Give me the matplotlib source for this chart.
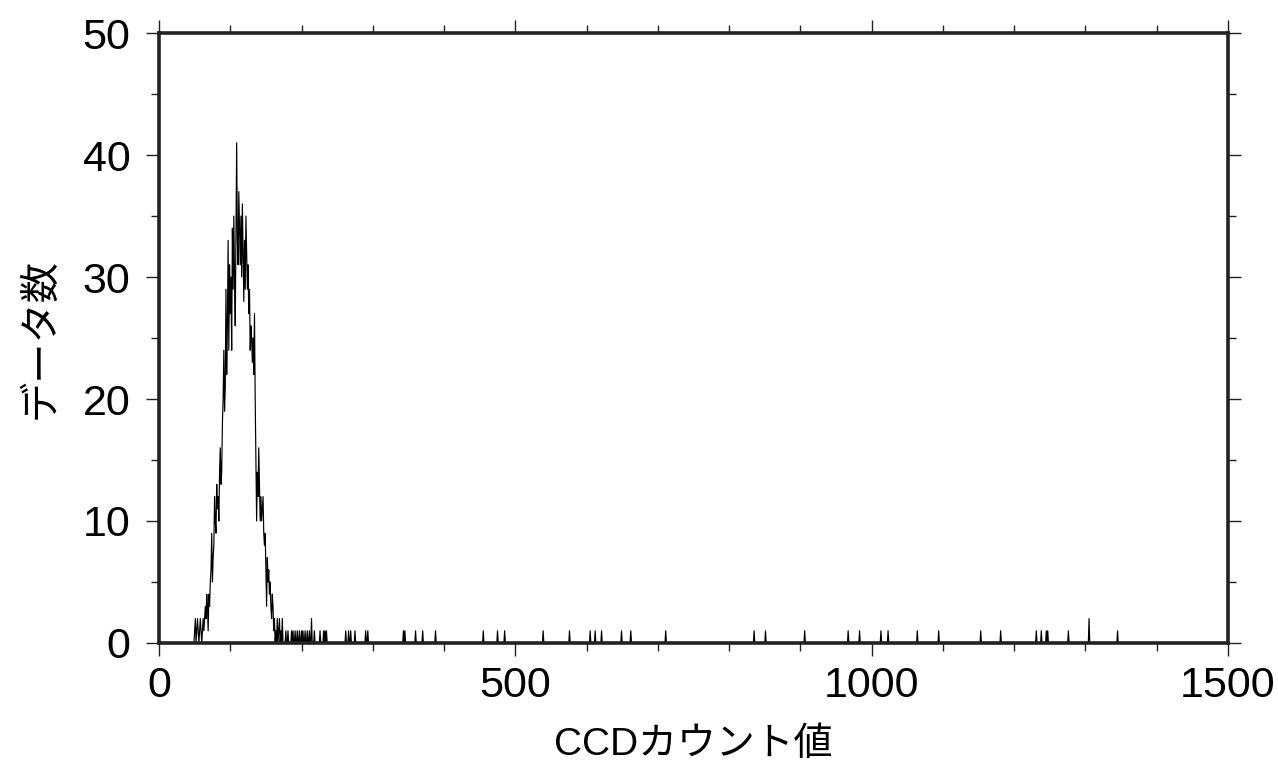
import numpy as np
import matplotlib
matplotlib.use("Agg")
import matplotlib.pyplot as plt
from matplotlib.ticker import MultipleLocator

plt.rcParams['font.family'] = ['Liberation Sans', 'Noto Sans CJK JP']

# counts per CCD value, main peak (values 48 .. 175)
peak_start = 48
peak_counts = [
    0, 0, 1, 2, 0, 1, 2, 1, 0, 1, 2, 1, 0, 1,
    2, 1, 2, 3, 2, 4, 3, 1, 4, 3, 5, 6, 9, 5, 7, 8,
    12, 10, 9, 13, 11, 12, 10, 14, 16, 13, 14, 18, 20, 24, 19, 21,
    29, 22, 26, 33, 24, 31, 27, 30, 24, 34, 29, 35, 30, 26, 33, 41,
    33, 31, 37, 34, 31, 35, 30, 36, 32, 28, 33, 29, 35, 32, 29, 31,
    27, 29, 24, 26, 25, 23, 25, 22, 27, 20, 15, 10, 14, 12, 16, 13,
    10, 12, 10, 11, 12, 9, 8, 9, 6, 3, 7, 5, 6, 4, 5, 3,
    2, 4, 3, 1, 2, 0, 1, 0, 2, 0, 1, 2, 0, 1, 0, 2,
    0, 0,
]

# isolated values in the tail
tail_values = [178, 181, 186, 188, 191, 194, 197, 200, 202, 205, 208, 211,
               214, 218, 226, 231, 233, 235, 262, 266, 269, 275, 290, 293,
               343, 345, 360, 370, 388, 455, 475, 485, 539, 576, 605, 612,
               621, 649, 662, 711, 835, 851, 906, 967, 983, 1013, 1023,
               1064, 1094, 1153, 1181, 1231, 1238, 1245, 1247, 1276, 1305,
               1345]
tail_counts = [1, 1, 1, 1, 1, 1, 1, 1, 1, 1, 1, 1,
               2, 1, 1, 1, 1, 1, 1, 1, 1, 1, 1, 1,
               1, 1, 1, 1, 1, 1, 1, 1, 1, 1, 1, 1,
               1, 1, 1, 1, 1, 1, 1, 1, 1, 1, 1,
               1, 1, 1, 1, 1, 1, 1, 1, 1, 2,
               1]

ccd = np.arange(0, 1501)
counts = np.zeros(len(ccd))
counts[peak_start:peak_start + len(peak_counts)] = peak_counts
counts[tail_values] = tail_counts

fig = plt.figure(figsize=(12.78, 7.79), dpi=100)
ax = fig.add_axes([0.1244, 0.1746, 0.8365, 0.783])
ax.plot(ccd, counts, color='black', lw=0.85)

ax.set_xlim(0, 1500)
ax.set_ylim(0, 50)
ax.xaxis.set_major_locator(MultipleLocator(500))
ax.xaxis.set_minor_locator(MultipleLocator(100))
ax.yaxis.set_major_locator(MultipleLocator(10))
ax.yaxis.set_minor_locator(MultipleLocator(5))
ax.tick_params(which='both', direction='out', top=True, right=True,
               labeltop=False, labelright=False, width=1.0, color='#222222')
ax.tick_params(which='major', length=9.5, labelsize=31)
ax.tick_params(axis='x', which='major', pad=7)
ax.tick_params(axis='y', which='major', pad=11)
ax.tick_params(which='minor', length=5.5)
for s in ax.spines.values():
    s.set_linewidth(2.6)
    s.set_color('#222222')
    s.set_zorder(5)

ax.set_xlabel('CCDカウント値', fontsize=28, labelpad=15)
ax.set_ylabel('データ数', fontsize=29, labelpad=17)

fig.savefig('out.png', dpi=100)
